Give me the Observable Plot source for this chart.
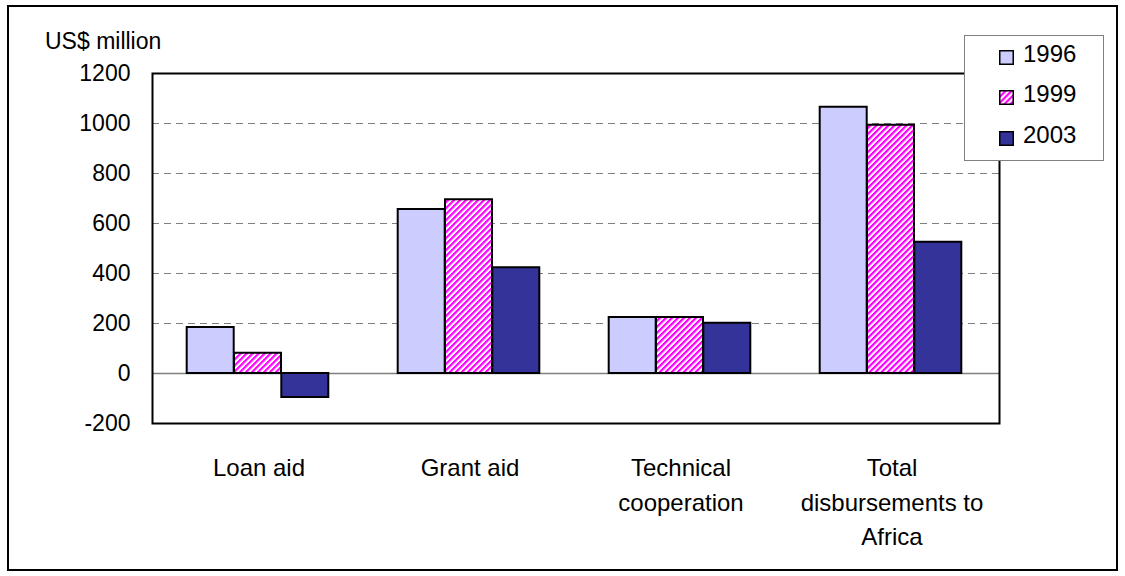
<!DOCTYPE html>
<html>
<head>
<meta charset="utf-8">
<script src="https://cdn.jsdelivr.net/npm/d3@7"></script>
<script src="https://cdn.jsdelivr.net/npm/@observablehq/plot@0.6"></script>
<style>
  body { margin: 0; background: #fff; font-family: "Liberation Sans", Arial, sans-serif; }
  #wrap { position: relative; width: 1125px; height: 576px; overflow: hidden; }
  #outer { position: absolute; left: 7px; top: 5px; width: 1111px; height: 566px; border: 2px solid #000; box-sizing: border-box; pointer-events: none; }
  #ylabel { position: absolute; left: 45px; top: 30px; font-size: 23px; line-height: 1; color: #000; white-space: nowrap; }
  #legend { position: absolute; left: 964px; top: 35px; width: 140px; height: 126px; border: 1.5px solid #808080; box-sizing: border-box; background: #fff; }
  .lg-sw { position: absolute; left: 999px; width: 15px; height: 15px; }
  .lg-tx { position: absolute; left: 1023px; font-size: 24px; line-height: 1; color: #000; }
</style>
</head>
<body>
<div id="wrap"></div>
<script>
// ---- data ----
const categories = ["Loan aid", "Grant aid", "Technical cooperation", "Total disbursements to Africa"];
const categoryLabels = ["Loan aid", "Grant aid", "Technical\ncooperation", "Total\ndisbursements to\nAfrica"];
const years = ["1996", "1999", "2003"];
const values1996 = [184, 656, 224, 1065];
const values1999 = [81, 695, 224, 993];
const values2003 = [-96, 423, 201, 525];
const yTicks = [-200, 0, 200, 400, 600, 800, 1000, 1200];
const gridValues = [200, 400, 600, 800, 1000];
const yLabel = "US$ million";

const colors = { "1996": "#ccccff", "1999": "url(#hatch)", "2003": "#333399" };
const seriesValues = { "1996": values1996, "1999": values1999, "2003": values2003 };

const wrap = document.getElementById("wrap");
const labelOf = new Map(categories.map((c, i) => [c, categoryLabels[i]]));

const bw = 47.3;
const barMarks = years.map((yr, k) => Plot.barY(
  categories.map((c, i) => ({ category: c, value: seriesValues[yr][i] })),
  { x: "category", y: "value", fill: colors[yr], stroke: "#000", strokeWidth: 2, dx: (k - 1) * bw - 1 }
));

const chart = Plot.plot({
  width: 1125,
  height: 576,
  marginLeft: 152,
  marginRight: 126,
  marginTop: 73,
  marginBottom: 153,
  style: { fontFamily: "Liberation Sans, Arial, sans-serif", fontSize: "24px", background: "transparent", color: "#000" },
  x: { domain: categories, paddingInner: 1 - bw / 211.75, paddingOuter: (1 - bw / 211.75) / 2, label: null },
  y: { domain: [-200, 1200], label: null },
  marks: [
    Plot.ruleY(gridValues, { stroke: "#808080", strokeWidth: 1.2, strokeDasharray: "7,5" }),
    Plot.ruleY([0], { stroke: "#808080", strokeWidth: 1.5 }),
    ...barMarks,
    Plot.frame({ stroke: "#000", strokeWidth: 2 }),
    Plot.axisY({ ticks: yTicks, tickSize: 0, tickPadding: 22, fontSize: 23, tickFormat: d => String(d), label: null }),
    Plot.axisX({ tickSize: 0, tickPadding: 28, fontSize: 24, lineHeight: 1.44, tickFormat: d => labelOf.get(d), label: null })
  ]
});

// hatch pattern for 1999
const svgNS = "http://www.w3.org/2000/svg";
function addPattern(svgEl) {
  const defs = d3.select(svgEl).insert("defs", ":first-child");
  const p = defs.append("pattern").attr("id", "hatch").attr("patternUnits", "userSpaceOnUse")
    .attr("width", 4.24).attr("height", 4.24).attr("patternTransform", "rotate(-45)");
  p.append("rect").attr("width", 4.24).attr("height", 4.24).attr("fill", "#fff");
  p.append("rect").attr("width", 4.24).attr("height", 2.2).attr("fill", "#ff00ff");
}
addPattern(chart);
chart.style.position = "absolute";
chart.style.left = "0px";
chart.style.top = "0px";
wrap.appendChild(chart);

// y label
const yl = document.createElement("div");
yl.id = "ylabel";
yl.textContent = yLabel;
wrap.appendChild(yl);

// legend
const lg = document.createElement("div");
lg.id = "legend";
wrap.appendChild(lg);
years.forEach((yr, i) => {
  const sw = document.createElementNS(svgNS, "svg");
  sw.setAttribute("class", "lg-sw");
  sw.setAttribute("width", 15);
  sw.setAttribute("height", 15);
  sw.style.top = (49.5 + 40.5 * i) + "px";
  d3.select(sw).append("rect").attr("x", 0.75).attr("y", 0.75).attr("width", 13.5).attr("height", 13.5)
    .attr("fill", colors[yr]).attr("stroke", "#000").attr("stroke-width", 1.5);
  wrap.appendChild(sw);
  const tx = document.createElement("div");
  tx.className = "lg-tx";
  tx.textContent = yr;
  tx.style.top = (41.7 + 40.5 * i) + "px";
  wrap.appendChild(tx);
});

const outer = document.createElement("div");
outer.id = "outer";
wrap.appendChild(outer);
</script>
</body>
</html>
